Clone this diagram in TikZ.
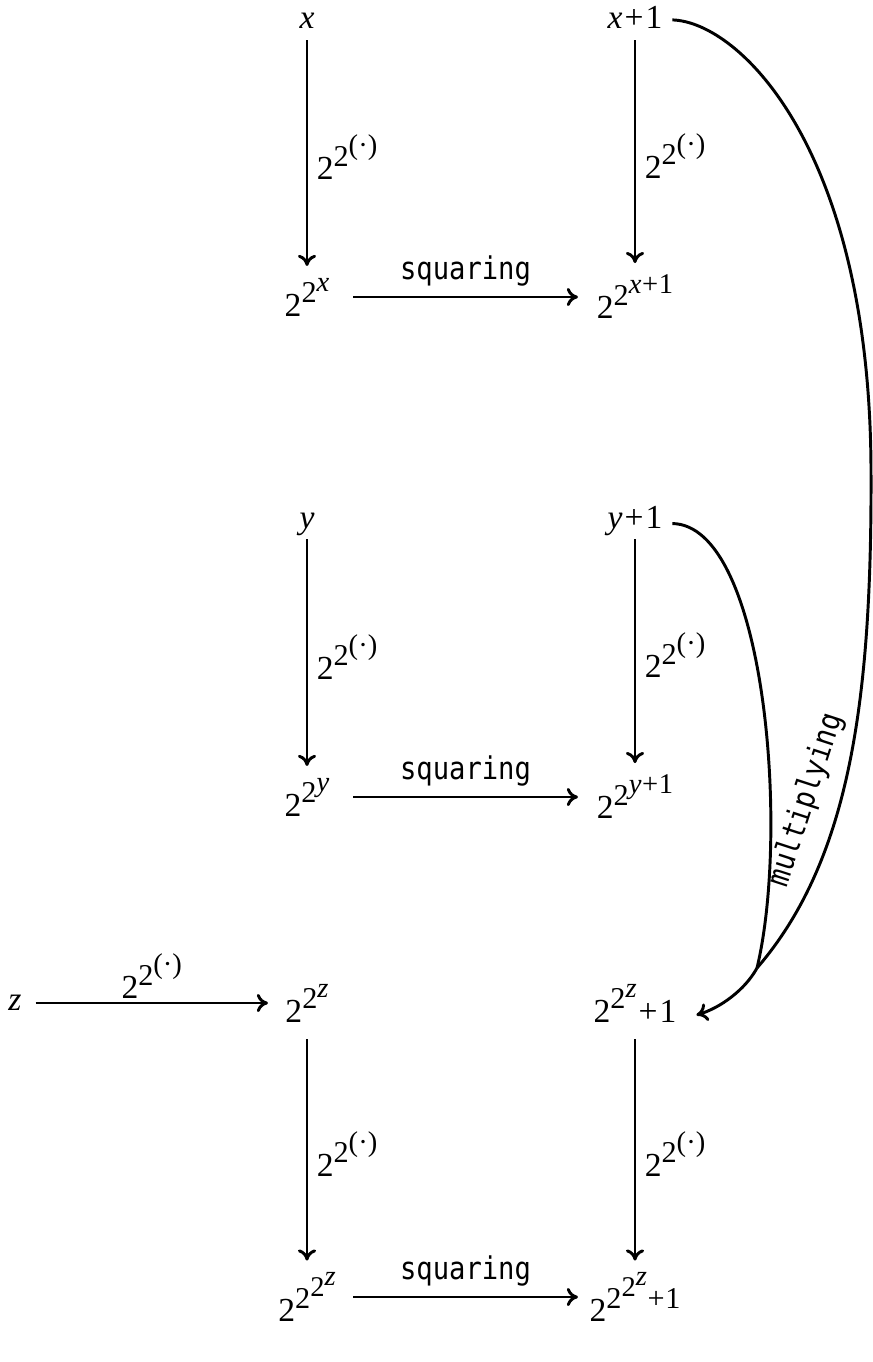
\documentclass[tikz,border=0pt]{standalone}
\usepackage{fontspec}
\setmainfont{Liberation Serif}
\setmonofont[Scale=0.93, FakeStretch=0.87]{DejaVu Sans Mono}
\usetikzlibrary{arrows.meta,calc}
% exponents built in text mode with explicit sizes
\newcommand{\upA}[1]{\raisebox{0.40em}{\fontsize{10.8}{13}\selectfont #1}}
\newcommand{\upB}[1]{\raisebox{0.38em}{\fontsize{10.2}{12}\selectfont #1}}
\newcommand{\pl}{\hspace{0.06em}+\hspace{0.06em}}
\newcommand{\plx}{\hspace{0.02em}+\hspace{0.02em}}
\newcommand{\vx}{\textit{x}}
\newcommand{\vy}{\textit{y}}
\newcommand{\vz}{\textit{z}}
\newcommand{\dexp}{2\upA{2\upB{(·)}}}
\tikzset{
  lbl/.style={inner sep=0pt, outer sep=0pt},
  elbl/.style={inner sep=0pt, outer sep=0pt},
  arr/.style={line width=1.05pt, -{To[length=4pt,width=6.5pt]}},
  cur/.style={line width=1.05pt},
}
\begin{document}
\begin{tikzpicture}[x=0.357pt, y=-0.357pt, font=\fontsize{12}{14.4}\selectfont]
\useasboundingbox (0,0) rectangle (872,1362);
% block 1
\node[lbl, anchor=base] (nx) at (307,28) {\vx};
\node[lbl, anchor=base] (nx1) at (635,28) {\vx\pl 1};
\node[lbl] (n2x) at (307,297) {2\upA{2\upB{\vx}}};
\node[lbl] (n2x1) at (635,297) {2\upA{2\upB{\vx\plx 1}}};
% block 2
\node[lbl, anchor=base] (ny) at (307,528) {\vy};
\node[lbl, anchor=base] (ny1) at (635,528) {\vy\pl 1};
\node[lbl] (n2y) at (307,797) {2\upA{2\upB{\vy}}};
\node[lbl] (n2y1) at (635,797) {2\upA{2\upB{\vy\plx 1}}};
% block 3
\node[lbl, anchor=base] (nz) at (15,1010) {\vz};
\node[lbl] (n2z) at (307,1003) {2\upA{2\upB{\vz}}};
\node[lbl] (n2z1) at (635,1003) {2\upA{2\upB{\vz}}\pl 1};
\node[lbl] (n2zz) at (307,1297) {2\upA{2\upB{2\upB{\vz}}}};
\node[lbl] (n2zz1) at (635,1297) {2\upA{2\upB{2\upB{\vz}}\plx 1}};

% vertical arrows
\draw[arr] ($(nx.base)+(0,12)$) -- ($(nx.base |- n2x.north)+(0,-12)$)
  node[elbl, midway, right=3.5pt, yshift=-1.5pt] {\dexp};
\draw[arr] ($(nx1.base)+(0,12)$) -- ($(nx1.base |- n2x1.north)+(0,-12)$)
  node[elbl, midway, right=3.5pt, yshift=-1.5pt] {\dexp};
\draw[arr] ($(ny.base)+(0,11)$) -- ($(ny.base |- n2y.north)+(0,-12)$)
  node[elbl, midway, right=3.5pt, yshift=-1.5pt] {\dexp};
\draw[arr] ($(ny1.base)+(0,11)$) -- ($(ny1.base |- n2y1.north)+(0,-12)$)
  node[elbl, midway, right=3.5pt, yshift=-1.5pt] {\dexp};
\draw[arr] ($(n2z.south)+(0,17)$) -- ($(n2zz.north)+(0,-12)$)
  node[elbl, midway, right=3.5pt, yshift=-1.5pt] {\dexp};
\draw[arr] ($(n2z1.south)+(0,17)$) -- ($(n2zz1.north)+(0,-12)$)
  node[elbl, midway, right=3.5pt, yshift=-1.5pt] {\dexp};

% horizontal arrows
\draw[arr] ($(n2x.center)+(46,0)$) -- ($(n2x1.center)+(-57,0)$)
  node[elbl, midway, above=4pt] {\texttt{squaring}};
\draw[arr] ($(n2y.center)+(46,0)$) -- ($(n2y1.center)+(-57,0)$)
  node[elbl, midway, above=4pt] {\texttt{squaring}};
\draw[arr] ($(n2zz.center)+(46,0)$) -- ($(n2zz1.center)+(-57,0)$)
  node[elbl, midway, above=4pt] {\texttt{squaring}};
\draw[arr] ($(nz.east |- n2z.west)+(14,0)$) -- ($(n2z.center)+(-39,0)$)
  node[elbl, midway, above=1.5pt] {\dexp};

% curved arrows
\coordinate (J) at (757,968);
\draw[cur] ($(nx1.east)+(10,3)$) .. controls (740,22) and (870,150) .. (871,470)
  .. controls (872,700) and (850,860) .. (J);
\draw[cur] ($(ny1.east)+(10,3)$) .. controls (765,525) and (790,830) .. (J);
\draw[arr] (J) .. controls (745,990) and (720,1008) .. ($(n2z1.east)+(20,12)$);
\node[elbl, rotate=72] (mul) at (806,800) {\texttt{multiplying}};
\end{tikzpicture}
\end{document}
